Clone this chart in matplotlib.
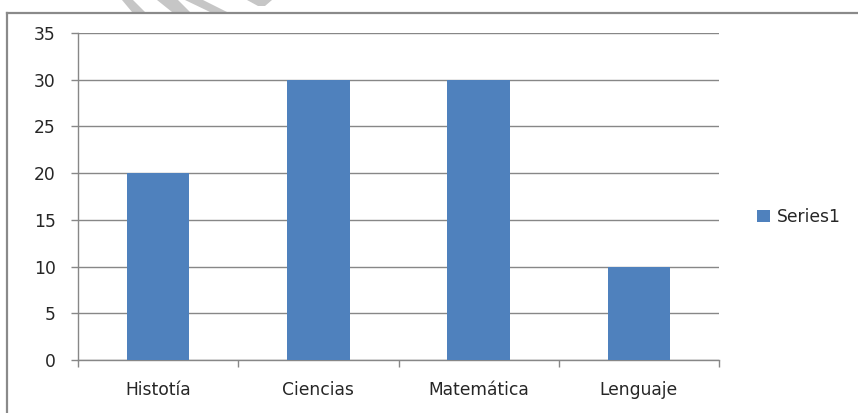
import matplotlib
matplotlib.use("Agg")
import matplotlib.pyplot as plt
from matplotlib.lines import Line2D
from matplotlib.patches import Polygon
import numpy as np

# chart data
categories = ["Histotía", "Ciencias", "Matemática", "Lenguaje"]
series1 = [20, 30, 30, 10]
yticks = [0, 5, 10, 15, 20, 25, 30, 35]

plt.rcParams['font.family'] = ['DejaVu Sans']

W, H = 858, 413
fig = plt.figure(figsize=(W / 100, H / 100), dpi=100)
ax = fig.add_axes([78 / W, 1 - 360 / H, (719 - 78) / W, (360 - 33) / H])

grid_col = "#878787"
bar_col = "#4f81bd"
txt_col = "#262626"
fs = 12.3

x = np.arange(len(categories))
ax.bar(x, series1, width=0.39, color=bar_col, zorder=3, label="Series1")

ax.set_xlim(-0.5, len(categories) - 0.5)
ax.set_ylim(0, 35)
ax.set_yticks(yticks)
ax.yaxis.grid(True, color=grid_col, linewidth=1)
ax.set_axisbelow(True)

# category labels sit between the boundary tick marks
ax.set_xticks(x)
ax.set_xticklabels(categories, fontsize=fs, color=txt_col)
ax.set_xticks(np.arange(-0.5, len(categories)), minor=True)
ax.tick_params(axis='x', which='major', length=0, pad=15)
ax.tick_params(axis='x', which='minor', length=5, width=1, color=grid_col, direction='out')
ax.tick_params(axis='y', length=5, width=1, color=grid_col, pad=11,
               labelsize=fs, labelcolor=txt_col)

for s in ["top", "right"]:
    ax.spines[s].set_visible(False)
for s in ["left", "bottom"]:
    ax.spines[s].set_color(grid_col)
    ax.spines[s].set_linewidth(1)

fig.legend(loc='center left', bbox_to_anchor=(757 / W, 1 - 217 / H),
           bbox_transform=fig.transFigure, frameon=False, fontsize=fs,
           borderpad=0, borderaxespad=0, labelcolor=txt_col,
           handlelength=0.75, handleheight=0.65, handletextpad=0.4)

# picture frame (only top and left edges visible in the crop)
fig.add_artist(Line2D([7 / W, 7 / W], [0, 1 - 13 / H], color="#8a8a8a", linewidth=1.6))
fig.add_artist(Line2D([7 / W, 1], [1 - 13 / H, 1 - 13 / H], color="#8a8a8a", linewidth=1.6))

# faint watermark strokes above the frame
wm = [
    [(122, 0), (133, 0), (145, 12), (132, 12)],
    [(157, 0), (178, 0), (190, 12), (172, 12)],
    [(185, 0), (203, 0), (227, 12), (210, 12)],
    [(247, 0), (272, 0), (265, 6), (258, 6)],
]
for pts in wm:
    fig.add_artist(Polygon([(px / W, 1 - py / H) for px, py in pts], closed=True,
                           transform=fig.transFigure, color="#c6c6c6", lw=0, zorder=0))

fig.savefig("out.png", dpi=100)
